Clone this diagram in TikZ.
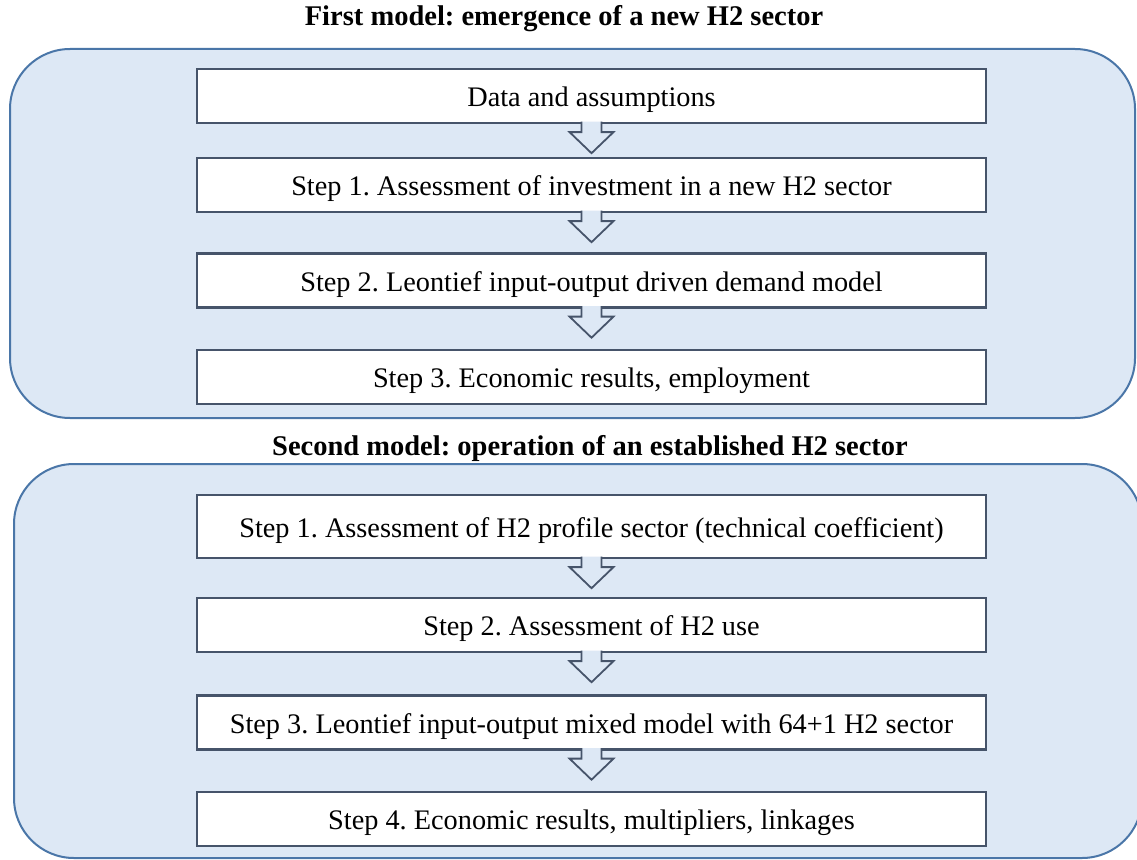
\documentclass[tikz,border=0pt]{standalone}
\usepackage{fontspec}
\setmainfont{Liberation Serif}
\usetikzlibrary{calc}
\frenchspacing
\definecolor{panelfill}{HTML}{DDE8F5}
\definecolor{panelline}{HTML}{4A76A8}
\definecolor{boxline}{HTML}{46546A}
\tikzset{
  panel/.style={fill=panelfill, draw=panelline, line width=2pt, rounded corners=60pt},
  stepbox/.style={draw=boxline, fill=white, line width=2.4pt, minimum width=789pt, minimum height=54pt, inner sep=0pt, text height=25pt, text depth=4pt, font=\fontsize{28.3}{32}\selectfont},
  titletext/.style={font=\bfseries\fontsize{28.5}{32}\selectfont, inner sep=0pt},
  arrowst/.style={fill=panelfill, draw=boxline, line width=1.8pt, line join=miter}
}
\newcommand\downarrowfrom[1]{%
  \filldraw[arrowst] ($(#1.south)+(-10,-2.6)$) -- ++(0,10.5) -- ++(-12,0)
    -- ($(#1.south)+(0,29)$) -- ($(#1.south)+(22,7.9)$) -- ++(-12,0) -- ++(0,-10.5);}
\begin{document}
\begin{tikzpicture}[x=1pt,y=-1pt]
\useasboundingbox (0,0) rectangle (1137,859);
\begin{scope}
\clip (0,0) rectangle (1137,859);
\draw[panel] (10,49) rectangle (1135,418);
\draw[panel] (14,464) rectangle (1142,858);
\end{scope}
\node[titletext] (t1) at (564,19) {First model: emergence of a new H2 sector};
\node[titletext] (t2) at (590,448) {Second model: operation of an established H2 sector};
% first model
\node[stepbox] (a1) at (591.5,96) {Data and assumptions};
\node[stepbox] (a2) at (591.5,185) {Step 1. Assessment of investment in a new H2 sector};
\node[stepbox] (a3) at (591.5,280.5) {Step 2. Leontief input-output driven demand model};
\node[stepbox] (a4) at (591.5,377) {Step 3. Economic results, employment};
\downarrowfrom{a1}
\downarrowfrom{a2}
\downarrowfrom{a3}
% second model
\node[stepbox, minimum height=63pt] (b1) at (591.5,526.5) {Step 1. Assessment of H2 profile sector (technical coefficient)};
\node[stepbox] (b2) at (591.5,625) {Step 2. Assessment of H2 use};
\node[stepbox] (b3) at (591.5,722.5) {Step 3. Leontief input-output mixed model with 64+1 H2 sector};
\node[stepbox] (b4) at (591.5,819) {Step 4. Economic results, multipliers, linkages};
\downarrowfrom{b1}
\downarrowfrom{b2}
\downarrowfrom{b3}
\end{tikzpicture}
\end{document}
